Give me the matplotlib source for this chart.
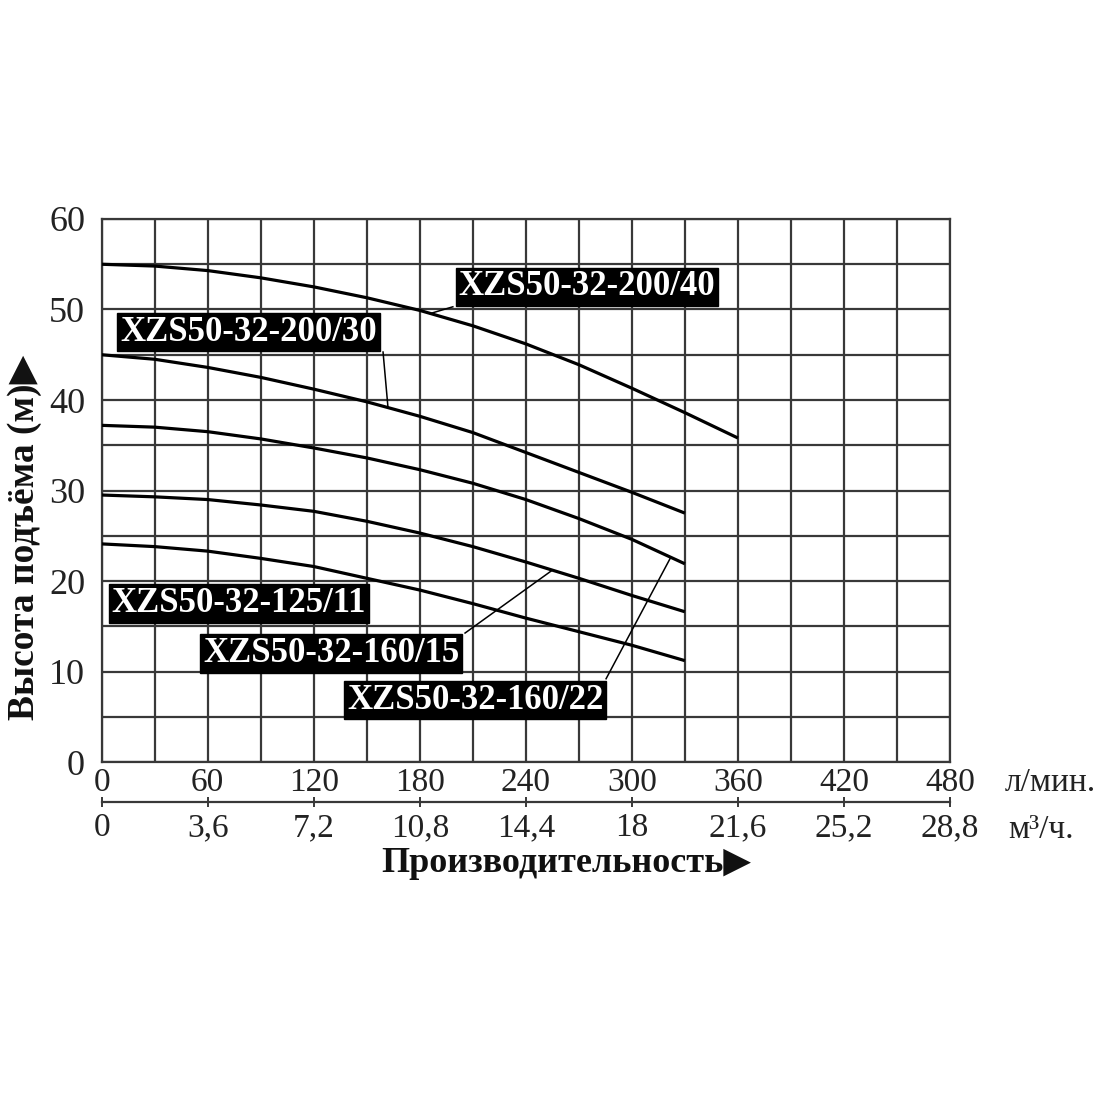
import matplotlib
matplotlib.use("Agg")
import matplotlib.pyplot as plt
import numpy as np

plt.rcParams['font.family'] = ['Liberation Serif', 'DejaVu Sans']

# ---- data (flow in l/min, head in m) ----
q_short = [0, 30, 60, 90, 120, 150, 180, 210, 240, 270, 300, 330]
q_long = [0, 30, 60, 90, 120, 150, 180, 210, 240, 270, 300, 330, 360]

h_200_40 = [55.0, 54.8, 54.3, 53.5, 52.5, 51.3, 49.9, 48.2, 46.2, 43.9, 41.3, 38.6, 35.8]
h_200_30 = [45.0, 44.5, 43.6, 42.5, 41.2, 39.8, 38.2, 36.4, 34.2, 32.0, 29.8, 27.5]
h_160_22 = [37.2, 37.0, 36.5, 35.7, 34.7, 33.6, 32.3, 30.8, 29.0, 26.9, 24.6, 21.9]
h_160_15 = [29.5, 29.3, 29.0, 28.4, 27.7, 26.6, 25.3, 23.8, 22.1, 20.3, 18.4, 16.6]
h_125_11 = [24.1, 23.8, 23.3, 22.5, 21.6, 20.3, 19.0, 17.5, 15.9, 14.4, 12.9, 11.2]

x_ticks_lmin = [0, 60, 120, 180, 240, 300, 360, 420, 480]
x_ticks_m3h = ["0", "3,6", "7,2", "10,8", "14,4", "18", "21,6", "25,2", "28,8"]
y_ticks = [0, 10, 20, 30, 40, 50, 60]

series = [
    ("XZS50-32-200/40", q_long, h_200_40),
    ("XZS50-32-200/30", q_short, h_200_30),
    ("XZS50-32-160/22", q_short, h_160_22),
    ("XZS50-32-160/15", q_short, h_160_15),
    ("XZS50-32-125/11", q_short, h_125_11),
]

# label box centre (q, h), leader start (q, h) or None, leader end q on curve
labels = {
    "XZS50-32-200/40": ((274.4, 52.5), (198.7, 50.3), 186),
    "XZS50-32-200/30": ((83.1, 47.5), (159.2, 45.3), 162),
    "XZS50-32-125/11": ((77.7, 17.5), None, None),
    "XZS50-32-160/15": ((129.8, 12.0), (205.6, 14.25), 255),
    "XZS50-32-160/22": ((211.3, 6.85), (285.4, 9.2), 322),
}

grid_c = '#383838'

fig = plt.figure(figsize=(11, 11), dpi=100)
ax = fig.add_axes([0.09245, 0.30727, 0.77118, 0.49364])
ax.set_xlim(0, 480)
ax.set_ylim(0, 60)

ax.set_xticks(x_ticks_lmin)
ax.set_xticks(np.arange(0, 481, 30), minor=True)
ax.set_yticks(y_ticks)
ax.set_yticks(np.arange(0, 61, 5), minor=True)
ax.grid(which='both', color=grid_c, lw=1.6)
ax.set_axisbelow(True)
for s in ax.spines.values():
    s.set_color(grid_c)
    s.set_linewidth(1.6)
ax.tick_params(which='both', length=0)
ax.tick_params(axis='x', labelsize=24, pad=4, colors='#222222')
ax.tick_params(axis='y', labelsize=26, pad=12, colors='#222222')

for name, q, h in series:
    ax.plot(q, h, color='black', lw=2.3, solid_capstyle='butt', zorder=3)

curve_map = {name: (q, h) for name, q, h in series}
for name, (center, start, endq) in labels.items():
    ax.text(center[0], center[1], name, color='white', fontsize=25,
            fontweight='bold', ha='center', va='center', zorder=5,
            bbox=dict(boxstyle='square,pad=0.08', fc='black', ec='black'))
    if start is not None:
        q, h = curve_map[name]
        endh = np.interp(endq, q, h)
        ax.plot([start[0], endq], [start[1], endh], color='black', lw=1.1,
                zorder=4)

# secondary axis (m3/h)
sec = ax.secondary_xaxis(-40 / 543, functions=(lambda x: x * 0.06,
                                                lambda x: x / 0.06))
sec.set_xticks([float(v.replace(',', '.')) for v in x_ticks_m3h])
sec.set_xticklabels(x_ticks_m3h)
sec.spines['bottom'].set_color(grid_c)
sec.spines['bottom'].set_linewidth(1.6)
sec.tick_params(direction='inout', length=7, width=1.4, color=grid_c,
                labelsize=24, pad=4, labelcolor='#222222')

fig.text(1005 / 1100, 1 - 783 / 1100, 'л/мин.', fontsize=24, ha='left',
         va='center', color='#222222')
fig.text(1008 / 1100, 1 - 830 / 1100, 'м³/ч.', fontsize=24, ha='left',
         va='center', color='#222222')

fig.text(566 / 1100, 1 - 864 / 1100, 'Производительность▶', fontsize=26,
         fontweight='bold', ha='center', va='center', color='#111111')
fig.text(25 / 1100, 1 - 537 / 1100, 'Высота подъёма (м)▶', fontsize=27,
         fontweight='bold', ha='center', va='center', rotation=90,
         color='#111111')

fig.savefig('out.png', dpi=100, facecolor='white')
